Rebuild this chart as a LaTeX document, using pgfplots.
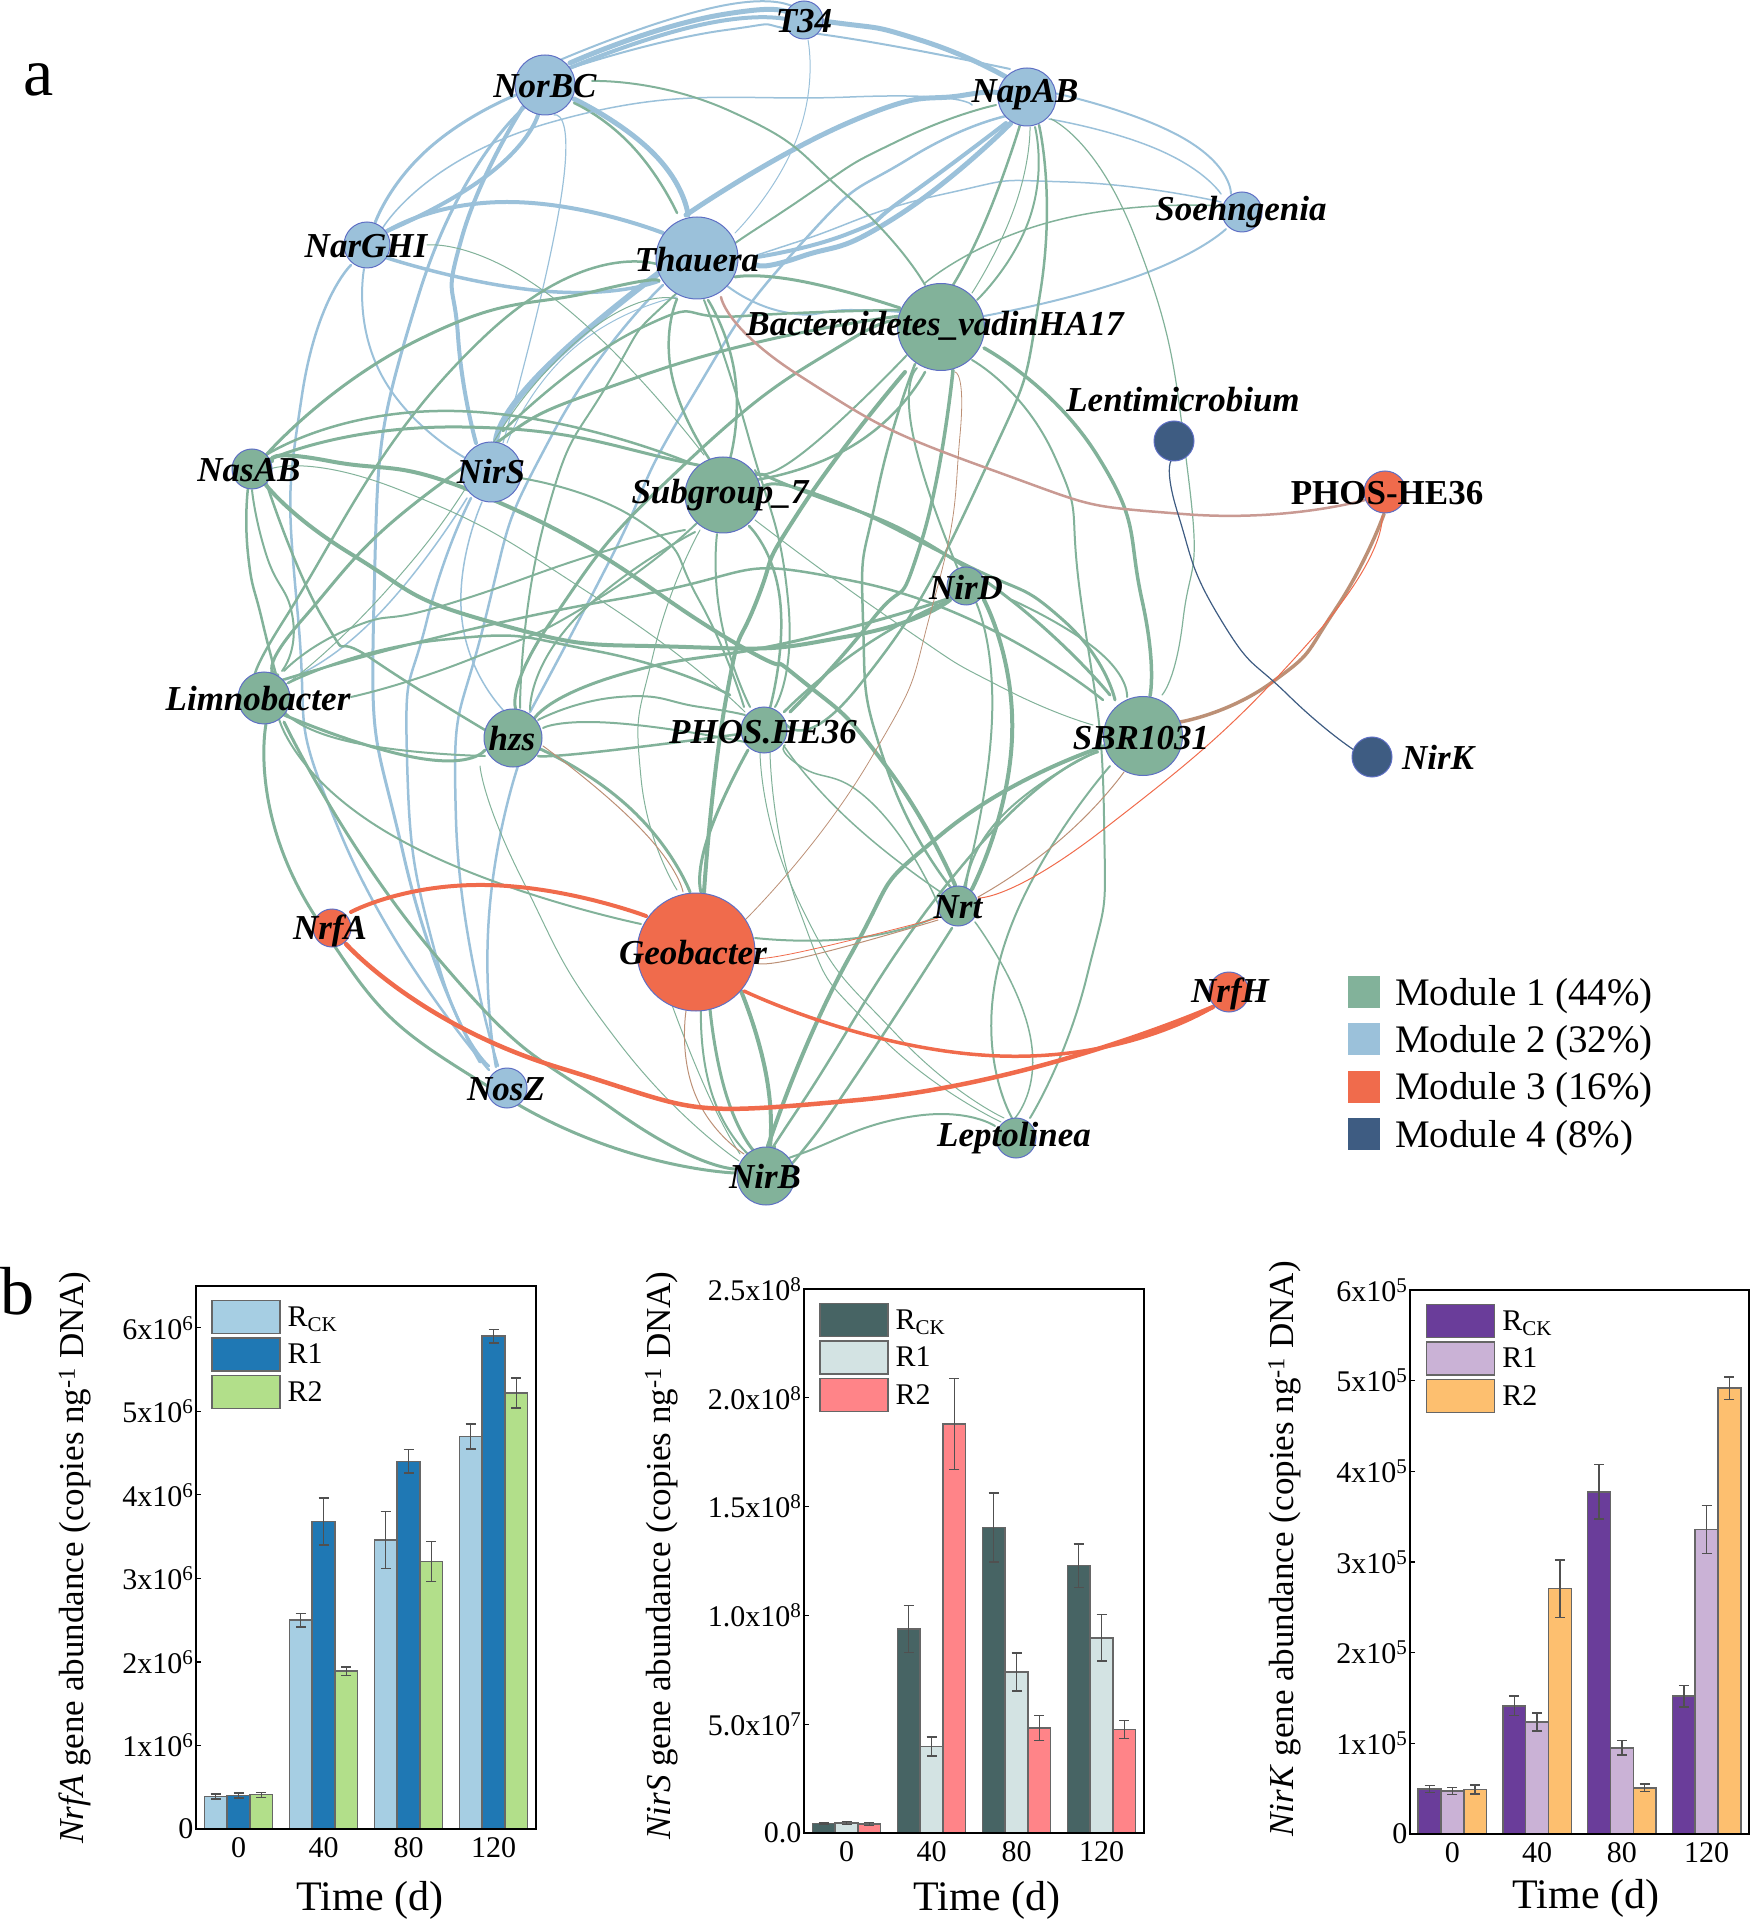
\documentclass[border=0pt]{standalone}
\usepackage{fontspec}
\setmainfont{Liberation Serif}
\usepackage{pgfplots}
\pgfplotsset{compat=1.18}
\definecolor{gre}{HTML}{82B29A}
\definecolor{blu}{HTML}{9BC1DA}
\definecolor{ora}{HTML}{F06B4C}
\definecolor{nav}{HTML}{3E5C82}
\definecolor{bro}{HTML}{BC9076}
\definecolor{pin}{HTML}{C99A93}
\definecolor{nbd}{HTML}{5E6FC4}
\definecolor{barl}{HTML}{666666}
\definecolor{errc}{HTML}{505050}
\definecolor{aa}{HTML}{A6CEE3}\definecolor{ab}{HTML}{1F78B4}\definecolor{ac}{HTML}{B2DF8A}
\definecolor{ba}{HTML}{476464}\definecolor{bb}{HTML}{D3E3E3}\definecolor{bc}{HTML}{FF8488}
\definecolor{ca}{HTML}{6A3D9A}\definecolor{cb}{HTML}{CAB2D6}\definecolor{cc}{HTML}{FDBF6F}
\newcommand{\fs}[1]{\fontsize{#1}{#1}\selectfont}
% edge: colour, width (px), points
\newcommand{\E}[3]{\addplot[no markers,smooth,tension=1,line width=#2pt,color=#1,line cap=round] coordinates {#3};}
% node: colour, x, y, r
\newcommand{\N}[4]{\addplot[only marks,mark=*,mark size=#4pt,mark options={fill=#1,draw=nbd,line width=1pt}] coordinates {(#2,#3)};}
\newcommand{\NL}[3]{\node[font=\fs{35}\bfseries\itshape,inner sep=0pt] at (axis cs:#1,#2) {#3};}
\pgfplotsset{
  overlay/.style={at={(0pt,0pt)},anchor=south west,scale only axis,width=1751pt,height=1922pt,
    xmin=0,xmax=1751,ymin=0,ymax=1922,y dir=reverse,hide axis},
  barax/.style={
    scale only axis,width=339pt,height=543pt,anchor=south west,
    ybar,bar width=22.8pt,axis on top,scaled y ticks=false,
    xmin=-0.5,xmax=3.5,xtick={0,1,2,3},xticklabels={0,40,80,120},
    xtick style={draw=none},
    ytick pos=left,tick align=inside,major tick length=5pt,
    ytick style={line width=1.3pt,black},
    axis line style={line width=2.2pt,black},
    tick label style={font=\fs{30}},
    xticklabel style={yshift=-5pt},
    yticklabel style={xshift=1pt},
    legend cell align=left,
    legend image code/.code={\draw[##1] (0pt,-16.5pt) rectangle (68pt,16.5pt);},
    legend style={font=\fs{30},draw=none,fill=none,anchor=north west,inner sep=0pt,
      row sep=3pt,nodes={inner sep=0pt,anchor=west}},
    every axis y label/.style={rotate=90,anchor=center,font=\fs{35}},
    every axis x label/.style={anchor=center,font=\fs{42}},
  },
  bsty/.style={draw=barl,line width=1.5pt,
    error bars/y dir=both,error bars/y explicit,
    error bars/error bar style={line width=1.4pt,color=errc},
    error bars/error mark options={rotate=90,mark size=5pt,line width=1.4pt,color=errc}},
}
\begin{document}
\begin{tikzpicture}
\path[use as bounding box] (0pt,0pt) rectangle (1751pt,1922pt);
\begin{axis}[overlay]
% Module 2 edges
\E{blu}{2}{(560,60)(726,5)(804,15)}
\E{blu}{5}{(570,63)(726,14)(830,22)(920,40)(1006,77)}
\E{blu}{4}{(565,70)(700,25)(790,20)}
\E{blu}{2}{(574,67)(726,30)(819,34)(1010,69)}
\E{blu}{3}{(516,95)(427,150)(375,223)}
\E{blu}{4}{(538,115)(489,174)(387,231)}
\E{blu}{4}{(523,107)(462,237)(458,336)(476,443)}
\E{blu}{3}{(525,107)(418,297)(374,600)(404,857)(480,1062)}
\E{blu}{5}{(688,215)(654,154)(574,99)}
\E{gre}{2.5}{(574,103)(632,146)(677,213)}
\E{blu}{4}{(384,233)(507,202)(663,233)}
\E{blu}{3.5}{(384,257)(543,291)(659,281)}
\E{blu}{1.5}{(382,229)(552,122)(850,97)(972,105)}
\E{blu}{2}{(364,269)(382,376)(467,459)}
\E{blu}{2.5}{(351,265)(302,395)(298,617)(342,837)(489,1070)}
\E{blu}{6}{(659,273)(538,376)(496,443)}
\E{blu}{5}{(757,265)(800,257)(896,217)(1011,123)}
\E{blu}{4}{(757,257)(850,233)(905,198)(1006,123)}
\E{blu}{5}{(686,215)(850,122)(965,95)(1000,96)}
\E{blu}{2.5}{(530,712)(610,560)(686,407)(800,245)(910,158)(1011,115)}
\E{blu}{1}{(507,443)(574,348)(677,297)}
\E{blu}{2.5}{(471,498)(427,620)(407,758)(436,956)(489,1066)}
\E{blu}{2.5}{(518,766)(489,916)(496,1067)}
\E{blu}{2.5}{(663,285)(552,435)(485,620)(456,820)(498,1066)}
\E{blu}{1.5}{(482,502)(462,620)(507,714)}
\E{blu}{2}{(1054,93)(1183,138)(1231,194)}
\E{blu}{1.5}{(1049,119)(1159,150)(1221,194)}
\E{blu}{2}{(984,316)(1135,277)(1226,229)}
\E{gre}{1.5}{(925,283)(1054,221)(1221,206)}
\E{blu}{1.5}{(757,255)(800,241)(944,194)(1068,182)(1221,202)}
\E{blu}{1}{(808,40)(797,138)(735,233)}
\E{blu}{1.2}{(554,115)(561,198)(503,443)}
\E{blu}{2}{(726,285)(784,312)(850,310)(900,312)}
\E{blu}{1.5}{(467,498)(373,620)(285,680)}
% Module 1 edges
\E{gre}{2}{(592,81)(730,111)(850,198)(925,285)}
\E{gre}{2.5}{(1020,125)(987,217)(953,285)}
\E{gre}{1}{(1030,127)(1015,206)(972,293)}
\E{gre}{2}{(1035,127)(1030,217)(977,300)}
\E{gre}{2.5}{(1039,125)(1040,294)(981,478)(858,687)(785,723)}
\E{gre}{2}{(996,105)(900,140)(800,200)(680,290)(610,380)(545,520)(520,708)}
\E{gre}{3}{(659,281)(596,291)(418,340)(266,455)}
\E{gre}{2.5}{(660,265)(485,336)(284,620)(272,672)}
\E{gre}{2.5}{(266,455)(454,411)(690,463)}
\E{gre}{3}{(266,461)(462,427)(708,467)(800,490)(968,569)(1110,695)}
\E{gre}{4}{(272,461)(329,461)(507,506)(730,640)(800,679)(886,766)(955,885)}
\E{gre}{4}{(262,480)(351,554)(498,624)(686,647)(850,636)(950,600)}
\E{gre}{2.5}{(248,488)(248,554)(262,620)(277,678)}
\E{gre}{2}{(252,490)(266,554)(293,620)(282,671)}
\E{gre}{2.5}{(266,482)(324,620)(372,659)(485,730)}
\E{gre}{1}{(270,469)(400,490)(600,600)(745,712)}
\E{gre}{2}{(520,478)(641,522)(699,600)(744,707)}
\E{gre}{3}{(278,675)(302,620)(454,474)(641,376)(900,316)}
\E{gre}{2.5}{(503,431)(641,328)(744,316)(900,310)}
\E{gre}{3}{(735,277)(800,281)(900,308)}
\E{gre}{2.5}{(677,299)(672,376)(712,463)}
\E{gre}{2.5}{(708,300)(735,376)(730,459)}
\E{gre}{2}{(704,300)(748,435)(788,600)(775,707)}
\E{gre}{2}{(695,532)(574,620)(530,710)}
\E{gre}{2.5}{(749,526)(780,600)(770,708)}
\E{gre}{2}{(717,534)(721,620)(750,707)}
\E{gre}{3}{(761,493)(810,492)(958,561)(1063,620)(1115,700)}
\E{gre}{3}{(534,719)(619,675)(800,640)(950,598)}
\E{gre}{2}{(538,720)(619,697)(700,707)(745,715)}
\E{gre}{2.5}{(538,756)(596,752)(740,734)}
\E{gre}{2}{(543,728)(614,723)(745,742)}
\E{gre}{3}{(284,715)(418,758)(485,750)}
\E{gre}{2}{(284,711)(351,742)(485,756)}
\E{gre}{2.5}{(288,683)(440,640)(596,651)(730,695)}
\E{gre}{2.5}{(282,680)(613,600)(858,582)(1103,700)}
\E{gre}{2}{(284,671)(351,628)(445,605)(596,554)(685,530)}
\E{gre}{2}{(351,697)(471,659)(596,600)(700,520)}
\E{gre}{3}{(266,724)(315,916)(507,1098)(735,1173)}
\E{gre}{3}{(284,722)(436,956)(614,1110)(735,1169)}
\E{gre}{2}{(279,719)(395,837)(641,924)}
\E{gre}{4}{(905,372)(800,510)(757,600)(726,699)(704,892)}
\E{gre}{2.5}{(915,364)(877,494)(863,620)(886,766)(952,889)}
\E{gre}{3.5}{(953,370)(920,546)(872,620)(790,712)}
\E{gre}{2}{(917,368)(913,435)(958,569)}
\E{gre}{2}{(972,360)(1054,455)(1081,600)(1104,817)(1087,976)(1030,1118)}
\E{gre}{3.5}{(984,348)(1097,455)(1142,600)(1150,696)}
\E{gre}{2}{(907,355)(800,455)(755,470)}
\E{gre}{2.5}{(925,372)(857,443)(755,480)}
\E{gre}{3}{(902,330)(850,340)(686,463)(552,620)(516,710)}
\E{gre}{4}{(984,600)(1012,738)(972,889)}
\E{gre}{2}{(975,600)(992,719)(964,887)}
\E{gre}{2}{(1012,600)(1098,651)(1127,697)}
\E{gre}{4}{(1105,746)(943,833)(850,956)(768,1146)}
\E{gre}{2.5}{(1098,752)(966,861)(800,1106)(775,1147)}
\E{gre}{2}{(1110,766)(1001,956)(1012,1118)}
\E{gre}{2}{(1096,752)(1001,817)(966,889)}
\E{gre}{2}{(755,938)(857,938)(938,916)}
\E{gre}{3}{(690,892)(632,810)(538,748)}
\E{gre}{2}{(701,1009)(712,1094)(748,1154)}
\E{gre}{3}{(710,1009)(726,1094)(753,1150)}
\E{gre}{4}{(741,991)(766,1074)(770,1146)}
\E{gre}{1}{(672,1005)(708,1094)(740,1154)}
\E{gre}{1}{(480,766)(521,877)(619,1043)(739,1161)}
\E{gre}{3}{(748,750)(708,837)(701,892)}
\E{gre}{1.5}{(784,746)(850,821)(945,895)}
\E{gre}{1.5}{(785,745)(800,766)(875,806)(938,904)}
\E{gre}{1}{(755,520)(898,624)(1001,687)(1093,725)}
\E{gre}{1.5}{(975,922)(1030,1035)(1015,1118)}
\E{gre}{2.5}{(952,928)(857,1074)(800,1154)(785,1165)}
\E{gre}{2}{(995,1126)(915,1116)(800,1154)(788,1160)}
\E{gre}{1}{(770,752)(800,912)(875,1031)(1001,1122)}
\E{gre}{1}{(760,752)(798,900)(897,1035)(1004,1118)}
\E{gre}{1}{(700,530)(654,651)(641,778)(677,890)}
\E{gre}{2.5}{(784,712)(863,647)(950,600)}
\E{gre}{1}{(427,245)(552,297)(704,455)}
\E{gre}{1}{(677,299)(561,356)(413,560)(285,685)}
\E{gre}{1.2}{(1051,119)(1135,237)(1188,474)(1183,620)(1162,695)}
% Modules 3 and 4 edges
\E{pin}{2.5}{(721,297)(800,376)(992,470)(1183,514)(1365,500)}
\E{bro}{0.8}{(955,372)(960,435)(934,600)(870,760)(745,920)}
\E{bro}{1}{(1124,772)(1060,840)(978,897)}
\E{bro}{3.5}{(1180,722)(1271,683)(1335,610)(1384,514)}
\E{ora}{1}{(978,898)(1104,829)(1311,640)(1382,516)}
\E{bro}{1}{(755,961)(800,958)(938,920)}
\E{ora}{0.8}{(755,957)(800,952)(938,918)}
\E{bro}{1}{(683,892)(641,829)(543,746)}
\E{bro}{1}{(686,1011)(695,1094)(744,1154)}
\E{ora}{4}{(351,912)(485,885)(646,916)}
\E{ora}{4.5}{(346,944)(560,1068)(858,1100)(1213,1007)}
\E{ora}{3.5}{(744,991)(1000,1056)(1213,1007)}
\E{nav}{1.2}{(1171,461)(1178,514)(1221,620)(1288,695)(1354,750)}
% nodes
\N{blu}{804}{20}{19}\N{blu}{545}{85}{30}\N{blu}{1027}{97}{29}\N{blu}{1242}{212}{20}
\N{blu}{367}{245}{23}\N{blu}{697}{258}{41}\N{gre}{941}{327}{43.5}\N{nav}{1174}{441}{20}
\N{ora}{1385}{492}{21}\N{gre}{252}{469}{20}\N{blu}{491.5}{472}{30}\N{gre}{723}{495}{38}
\N{gre}{966}{586}{19}\N{gre}{264}{698}{26}\N{gre}{513}{738}{29}\N{gre}{764}{730}{23}
\N{gre}{1143}{736}{39.5}\N{nav}{1372}{757}{20}\N{gre}{958}{906}{20}\N{ora}{332}{928}{19}
\N{ora}{696}{952}{59}\N{ora}{1229}{992}{20}\N{blu}{507}{1088}{20}\N{gre}{766}{1176}{29}
\N{gre}{1016}{1138}{20}
% module legend
\addplot[only marks,mark=square*,mark size=15.5pt,mark options={fill=gre,draw=gre}] coordinates {(1363.5,991.5)};
\addplot[only marks,mark=square*,mark size=15.5pt,mark options={fill=blu,draw=blu}] coordinates {(1363.5,1038.5)};
\addplot[only marks,mark=square*,mark size=15.5pt,mark options={fill=ora,draw=ora}] coordinates {(1363.5,1086.5)};
\addplot[only marks,mark=square*,mark size=15.5pt,mark options={fill=nav,draw=nav}] coordinates {(1363.5,1133.5)};
\end{axis}
\begin{axis}[overlay]
% node labels
\NL{804}{21}{T34}\NL{545}{86}{NorBC}\NL{1025}{95}{NapAB}\NL{1241}{212}{Soehngenia}
\NL{366}{246}{NarGHI}\NL{697}{260}{Thauera}\NL{935}{326}{Bacteroidetes\_vadinHA17}
\NL{1183}{400}{Lentimicrobium}
\node[font=\fs{35}\bfseries,inner sep=0pt] at (axis cs:1387,493) {PHOS-HE36};
\NL{249}{470}{NasAB}\NL{491}{472}{NirS}\NL{720}{495}{Subgroup\_7}\NL{966}{587}{NirD}
\NL{258}{699}{Limnobacter}\NL{512}{739}{hzs}\NL{763}{732}{PHOS.HE36}\NL{1141}{738}{SBR1031}
\NL{1438}{757}{NirK}\NL{958}{907}{Nrt}\NL{693}{953}{Geobacter}\NL{330}{931}{NrfA}
\NL{1230}{994}{NrfH}\NL{506}{1089}{NosZ}\NL{765}{1176}{NirB}\NL{1014}{1138}{Leptolinea}
\node[font=\fs{39},anchor=west,inner sep=0pt] at (axis cs:1395,996) {Module 1 (44\%)};
\node[font=\fs{39},anchor=west,inner sep=0pt] at (axis cs:1395,1043) {Module 2 (32\%)};
\node[font=\fs{39},anchor=west,inner sep=0pt] at (axis cs:1395,1090) {Module 3 (16\%)};
\node[font=\fs{39},anchor=west,inner sep=0pt] at (axis cs:1395,1138) {Module 4 (8\%)};
\node[font=\fs{68},inner sep=0pt] at (axis cs:39,80) {a};
\node[font=\fs{68},inner sep=0pt] at (axis cs:18,1291) {b};
\end{axis}
% ---- NrfA
\begin{axis}[barax,at={(196pt,93pt)},width=340pt,
  ymin=0,ymax=6.5e6,ytick={0,1e6,2e6,3e6,4e6,5e6,6e6},
  yticklabels={0,1x10\textsuperscript{6},2x10\textsuperscript{6},3x10\textsuperscript{6},4x10\textsuperscript{6},5x10\textsuperscript{6},6x10\textsuperscript{6}},
  xlabel={Time (d)},ylabel={\textit{NrfA} gene abundance (copies ng\textsuperscript{-1} DNA)},
  xlabel style={at={(axis description cs:0.512,-0.131)}},
  ylabel style={at={(axis description cs:-0.356,0.5)}},
  legend style={at={(axis description cs:0.044,0.975)}}]
\addplot[bar shift=-22.8pt,fill=aa,bsty] coordinates {(0,3.9e5)+-(0,3e4)(1,2.5e6)+-(0,8e4)(2,3.46e6)+-(0,3.4e5)(3,4.7e6)+-(0,1.5e5)};
\addplot[bar shift=0pt,fill=ab,bsty] coordinates {(0,4.0e5)+-(0,3e4)(1,3.68e6)+-(0,2.8e5)(2,4.4e6)+-(0,1.4e5)(3,5.9e6)+-(0,8e4)};
\addplot[bar shift=22.8pt,fill=ac,bsty] coordinates {(0,4.1e5)+-(0,3e4)(1,1.89e6)+-(0,5e4)(2,3.2e6)+-(0,2.4e5)(3,5.22e6)+-(0,1.8e5)};
\legend{\hspace*{7pt}R\textsubscript{CK},\hspace*{7pt}R1,\hspace*{7pt}R2}
\end{axis}
% ---- NirS
\begin{axis}[barax,at={(804pt,89pt)},width=340pt,height=544pt,
  ymin=0,ymax=2.5e8,ytick={0,5e7,1e8,1.5e8,2e8,2.5e8},
  yticklabels={0.0,5.0x10\textsuperscript{7},1.0x10\textsuperscript{8},1.5x10\textsuperscript{8},2.0x10\textsuperscript{8},2.5x10\textsuperscript{8}},
  xlabel={Time (d)},ylabel={\textit{NirS} gene abundance (copies ng\textsuperscript{-1} DNA)},
  xlabel style={at={(axis description cs:0.538,-0.123)}},
  ylabel style={at={(axis description cs:-0.42,0.51)}},
  legend style={at={(axis description cs:0.044,0.975)}}]
\addplot[bar shift=-22.8pt,fill=ba,bsty] coordinates {(0,4.4e6)+-(0,3e5)(1,9.37e7)+-(0,1.08e7)(2,1.404e8)+-(0,1.58e7)(3,1.229e8)+-(0,1.0e7)};
\addplot[bar shift=0pt,fill=bb,bsty] coordinates {(0,4.6e6)+-(0,7e5)(1,3.98e7)+-(0,4.4e6)(2,7.4e7)+-(0,8.8e6)(3,8.97e7)+-(0,1.07e7)};
\addplot[bar shift=22.8pt,fill=bc,bsty] coordinates {(0,4.2e6)+-(0,7e5)(1,1.88e8)+-(0,2.1e7)(2,4.83e7)+-(0,5.7e6)(3,4.75e7)+-(0,4.2e6)};
\legend{\hspace*{7pt}R\textsubscript{CK},\hspace*{7pt}R1,\hspace*{7pt}R2}
\end{axis}
% ---- NirK
\begin{axis}[barax,at={(1410pt,88pt)},height=544pt,
  ymin=0,ymax=6e5,ytick={0,1e5,2e5,3e5,4e5,5e5,6e5},
  yticklabels={0,1x10\textsuperscript{5},2x10\textsuperscript{5},3x10\textsuperscript{5},4x10\textsuperscript{5},5x10\textsuperscript{5},6x10\textsuperscript{5}},
  xlabel={Time (d)},ylabel={\textit{NirK} gene abundance (copies ng\textsuperscript{-1} DNA)},
  xlabel style={at={(axis description cs:0.519,-0.119)}},
  ylabel style={at={(axis description cs:-0.37,0.524)}},
  legend style={at={(axis description cs:0.046,0.975)}}]
\addplot[bar shift=-22.8pt,fill=ca,bsty] coordinates {(0,4.96e4)+-(0,4e3)(1,1.414e5)+-(0,1.08e4)(2,3.773e5)+-(0,3.0e4)(3,1.52e5)+-(0,1.2e4)};
\addplot[bar shift=0pt,fill=cb,bsty] coordinates {(0,4.73e4)+-(0,4e3)(1,1.234e5)+-(0,1.0e4)(2,9.5e4)+-(0,8e3)(3,3.357e5)+-(0,2.65e4)};
\addplot[bar shift=22.8pt,fill=cc,bsty] coordinates {(0,4.9e4)+-(0,5e3)(1,2.705e5)+-(0,3.16e4)(2,5.1e4)+-(0,4e3)(3,4.917e5)+-(0,1.23e4)};
\legend{\hspace*{7pt}R\textsubscript{CK},\hspace*{7pt}R1,\hspace*{7pt}R2}
\end{axis}
\end{tikzpicture}
\end{document}
